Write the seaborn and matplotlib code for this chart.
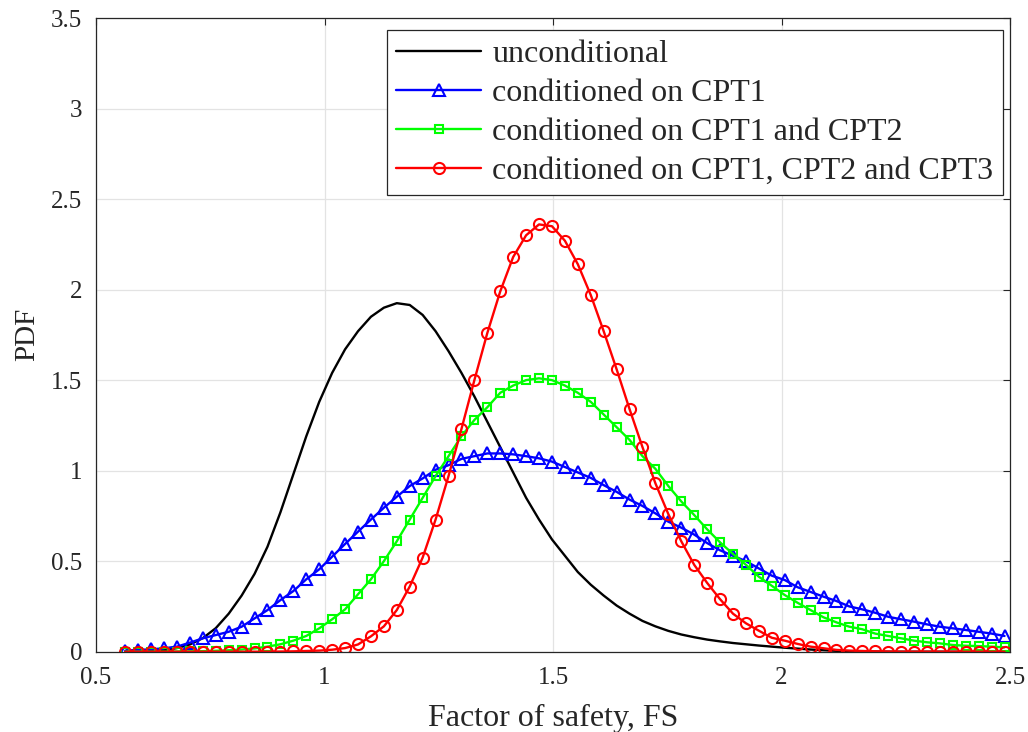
""" PDF of factor of safety, unconditional and conditioned on CPT data """

import numpy as np
import matplotlib
matplotlib.use("Agg")
import matplotlib.pyplot as plt
import seaborn as sns
from matplotlib.ticker import FuncFormatter


# data (69 evaluation points)
fs = np.linspace(0.564, 2.488, 69)

pdf_uncond = [
    0.0, 0.001, 0.003, 0.008, 0.02, 0.04, 0.075, 0.13, 0.21, 0.31,
    0.43, 0.58, 0.77, 0.98, 1.19, 1.38, 1.54, 1.67, 1.77, 1.85,
    1.90, 1.925, 1.915, 1.86, 1.77, 1.66, 1.54, 1.41, 1.27, 1.13,
    0.99, 0.85, 0.73, 0.62, 0.53, 0.44, 0.37, 0.31, 0.255, 0.21,
    0.17, 0.14, 0.115, 0.095, 0.08, 0.067, 0.057, 0.048, 0.041, 0.034,
    0.028, 0.022, 0.017, 0.012, 0.008, 0.005, 0.003, 0.002, 0.001, 0.0,
    0.0, 0.0, 0.0, 0.0, 0.0, 0.0, 0.0, 0.0, 0.0,
]

pdf_cpt1 = [
    0.006, 0.01, 0.013, 0.019, 0.028, 0.05, 0.074, 0.092, 0.11, 0.138,
    0.184, 0.23, 0.285, 0.335, 0.40, 0.455, 0.525, 0.595, 0.663, 0.73,
    0.795, 0.856, 0.915, 0.957, 1.005, 1.03, 1.065, 1.08, 1.095, 1.095,
    1.09, 1.08, 1.068, 1.05, 1.02, 0.99, 0.96, 0.92, 0.883, 0.84,
    0.805, 0.764, 0.718, 0.685, 0.647, 0.60, 0.56, 0.53, 0.50, 0.46,
    0.42, 0.396, 0.356, 0.33, 0.304, 0.28, 0.25, 0.234, 0.215, 0.193,
    0.179, 0.166, 0.151, 0.138, 0.129, 0.12, 0.11, 0.10, 0.087,
]

pdf_cpt12 = [
    0.0, 0.0, 0.0, 0.0, 0.001, 0.002, 0.003, 0.005, 0.008, 0.012,
    0.018, 0.028, 0.041, 0.061, 0.087, 0.129, 0.179, 0.234, 0.317, 0.40,
    0.50, 0.61, 0.73, 0.85, 0.97, 1.08, 1.19, 1.28, 1.35, 1.43,
    1.47, 1.50, 1.51, 1.50, 1.47, 1.43, 1.38, 1.31, 1.24, 1.17,
    1.08, 1.01, 0.915, 0.83, 0.755, 0.676, 0.604, 0.54, 0.48, 0.414,
    0.364, 0.313, 0.27, 0.23, 0.19, 0.162, 0.138, 0.124, 0.10, 0.087,
    0.074, 0.061, 0.052, 0.046, 0.037, 0.033, 0.031, 0.028, 0.024,
]

pdf_cpt123 = [
    0.0, 0.0, 0.0, 0.0, 0.0, 0.0, 0.0, 0.0, 0.0, 0.0,
    0.0, 0.0, 0.001, 0.002, 0.004, 0.006, 0.011, 0.02, 0.04, 0.085,
    0.14, 0.23, 0.36, 0.52, 0.73, 0.97, 1.23, 1.50, 1.76, 1.99,
    2.18, 2.30, 2.36, 2.35, 2.27, 2.14, 1.97, 1.77, 1.56, 1.34,
    1.13, 0.93, 0.76, 0.61, 0.48, 0.38, 0.29, 0.21, 0.157, 0.116,
    0.077, 0.061, 0.043, 0.028, 0.019, 0.01, 0.006, 0.004, 0.002, 0.001,
    0.0, 0.0, 0.0, 0.0, 0.0, 0.0, 0.0, 0.0, 0.0,
]

labels = [
    "unconditional",
    "conditioned on CPT1",
    "conditioned on CPT1 and CPT2",
    "conditioned on CPT1, CPT2 and CPT3",
]


# styling
sns.set_style("whitegrid")
plt.rcParams["font.family"] = ["Liberation Serif", "DejaVu Serif"]

fig = plt.figure(figsize=(10.28, 7.32), dpi=100)
ax = fig.add_axes([0.0934, 0.1097, 0.8891, 0.8657])

sns.lineplot(x=fs, y=pdf_uncond, ax=ax, color="black", linewidth=1.7,
             label=labels[0])
sns.lineplot(x=fs, y=pdf_cpt1, ax=ax, color="blue", linewidth=1.7,
             marker="^", markersize=8, markerfacecolor="none",
             markeredgecolor="blue", markeredgewidth=1.5, label=labels[1])
sns.lineplot(x=fs, y=pdf_cpt12, ax=ax, color="#00ff00", linewidth=1.7,
             marker="s", markersize=6.3, markerfacecolor="none",
             markeredgecolor="#00ff00", markeredgewidth=1.5, label=labels[2])
sns.lineplot(x=fs, y=pdf_cpt123, ax=ax, color="red", linewidth=1.7,
             marker="o", markersize=8, markerfacecolor="none",
             markeredgecolor="red", markeredgewidth=1.5, label=labels[3])

# axes, ticks and grid (MATLAB-like look)
ax.set_xlim(0.5, 2.5)
ax.set_ylim(0, 3.5)
ax.set_xticks([0.5, 1, 1.5, 2, 2.5])
ax.set_yticks([0, 0.5, 1, 1.5, 2, 2.5, 3, 3.5])
fmt = FuncFormatter(lambda v, pos: f"{v:g}")
ax.xaxis.set_major_formatter(fmt)
ax.yaxis.set_major_formatter(fmt)
ax.tick_params(direction="in", length=5, width=0.8, colors="#262626",
               labelsize=18, top=True, right=True)
ax.tick_params(axis="x", pad=11)
ax.tick_params(axis="y", pad=10)
ax.grid(True, color="#e3e3e3", linewidth=0.9)
for spine in ax.spines.values():
    spine.set_color("#262626")
    spine.set_linewidth(0.9)

ax.set_xlabel("Factor of safety, FS", fontsize=23, labelpad=11)
ax.set_ylabel("PDF", fontsize=21, labelpad=8)

legend = ax.legend(loc="upper right", bbox_to_anchor=(0.9923, 0.981),
                   borderaxespad=0, fontsize=23, frameon=True,
                   fancybox=False, framealpha=1, edgecolor="#262626",
                   handlelength=2.65, labelspacing=0.3,
                   borderpad=0.3, handletextpad=0.35)
legend.get_frame().set_linewidth(0.9)

fig.savefig("out.png", dpi=100)
